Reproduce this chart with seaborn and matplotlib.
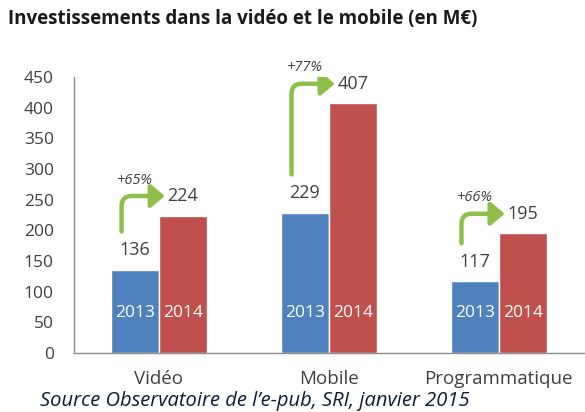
import numpy as np
import pandas as pd
import matplotlib
matplotlib.use("Agg")
import matplotlib.pyplot as plt
import seaborn as sns
from matplotlib.patches import FancyArrowPatch


CATEGORIES = ["Vidéo", "Mobile", "Programmatique"]
YEARS = ["2013", "2014"]
VALUES_2013 = [136, 229, 117]
VALUES_2014 = [224, 407, 195]
GROWTH = ["+65%", "+77%", "+66%"]
Y_TICKS = [0, 50, 100, 150, 200, 250, 300, 350, 400, 450]

TITLE = "Investissements dans la vidéo et le mobile (en M€)"
SOURCE = "Source Observatoire de l\u2019e-pub, SRI, janvier 2015"

BLUE = "#4F81BD"
RED = "#C0504D"
GREEN = "#8DC04A"
AXIS_GREY = "#8C8C8C"
TEXT_GREY = "#404040"

FONT = "Open Sans"

BAR_WIDTH = 0.565


df = pd.DataFrame({
    "category": CATEGORIES * 2,
    "year": [YEARS[0]] * 3 + [YEARS[1]] * 3,
    "value": VALUES_2013 + VALUES_2014
})

sns.set_style("white")
plt.rcParams["font.family"] = [FONT, "DejaVu Sans"]

fig = plt.figure(figsize=(5.85, 4.12), dpi=100)
ax = fig.add_axes([0.1265, 0.1432, 0.8715, 0.6699])

sns.barplot(
    data=df,
    x="category",
    y="value",
    hue="year",
    palette=[BLUE, RED],
    width=BAR_WIDTH,
    saturation=1,
    legend=False,
    ax=ax
)

ax.set_ylim(0, 450)
ax.set_xlim(-0.5, 2.5)
ax.set_yticks(Y_TICKS)
ax.set_xlabel("")
ax.set_ylabel("")

for side in ["top", "right"]:
    ax.spines[side].set_visible(False)
for side in ["left", "bottom"]:
    ax.spines[side].set_color(AXIS_GREY)
    ax.spines[side].set_linewidth(1.0)

ax.tick_params(
    axis="y",
    direction="out",
    length=4.5,
    width=1,
    color=AXIS_GREY,
    pad=10,
    labelsize=12.5,
    labelcolor=TEXT_GREY
)
ax.tick_params(
    axis="x",
    which="major",
    length=0,
    pad=12,
    labelsize=13.5,
    labelcolor=TEXT_GREY
)
ax.set_xticks([-0.5, 0.5, 1.5, 2.5], minor=True)
ax.tick_params(axis="x", which="minor", direction="out", length=4, width=1, color=AXIS_GREY)

half = BAR_WIDTH / 4

for i in range(len(CATEGORIES)):
    v13 = VALUES_2013[i]
    v14 = VALUES_2014[i]

    # value labels above bars
    ax.text(i - half, v13 + 32, str(v13), ha="center", va="center",
            fontsize=13, color=TEXT_GREY)
    ax.text(i + half, v14 + 32, str(v14), ha="center", va="center",
            fontsize=13, color=TEXT_GREY)

    # year labels inside bars
    ax.text(i - half, 65, YEARS[0], ha="center", va="center",
            fontsize=12.5, color="white")
    ax.text(i + half, 65, YEARS[1], ha="center", va="center",
            fontsize=12.5, color="white")

    # growth arrow
    arrow = FancyArrowPatch(
        (i - 0.22, v13 + 62),
        (i + 0.035, v14 + 32),
        connectionstyle="angle,angleA=90,angleB=0,rad=10",
        arrowstyle="-|>,head_length=0.6,head_width=0.5",
        mutation_scale=14,
        color=GREEN,
        lw=3.2,
        shrinkA=0,
        shrinkB=0
    )
    ax.add_patch(arrow)

    ax.text(i - 0.14, v14 + 58, GROWTH[i], ha="center", va="center",
            fontsize=10.5, style="italic", color=TEXT_GREY, clip_on=False)

fig.text(0.014, 0.955, TITLE, ha="left", va="center",
         fontsize=13.5, fontweight="bold", color="#1A1A1A")

fig.text(0.068, 0.027, SOURCE, ha="left", va="center",
         fontsize=14.5, style="italic", color="#0F1B33")

fig.savefig("out.png", dpi=100)
